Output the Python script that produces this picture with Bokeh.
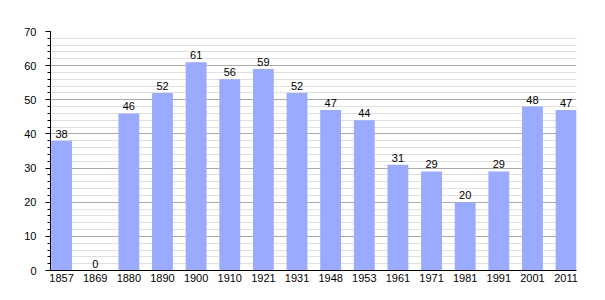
from bokeh.plotting import figure
from bokeh.models import ColumnDataSource, FixedTicker, Range1d
from bokeh.embed import file_html
from bokeh.resources import INLINE
from bokeh.core.properties import value

years = ["1857", "1869", "1880", "1890", "1900", "1910", "1921", "1931",
         "1948", "1953", "1961", "1971", "1981", "1991", "2001", "2011"]
population = [38, 0, 46, 52, 61, 56, 59, 52, 47, 44, 31, 29, 20, 29, 48, 47]
y_ticks = [0, 10, 20, 30, 40, 50, 60, 70]

xs = list(range(len(years)))
src = ColumnDataSource(dict(x=xs, top=population, lab=[str(v) for v in population]))

p = figure(width=605, height=300, output_backend="svg", toolbar_location=None,
           x_range=Range1d(-0.33, len(years) - 1 + 0.31), y_range=Range1d(0, 70),
           min_border_left=50, min_border_right=29, min_border_top=31, min_border_bottom=30)
p.outline_line_color = None
p.background_fill_color = "white"

p.vbar(x="x", top="top", bottom=0, width=0.62, source=src,
       fill_color="#99aaff", line_color=None)
p.text(x="x", y="top", text="lab", source=src, text_align="center",
       text_baseline="bottom", y_offset=-3, text_font_size="11px",
       text_font=value("Liberation Sans"), text_color="#000000")

# grids
p.xgrid.grid_line_color = None
p.ygrid.grid_line_color = "#aaaaaa"
p.ygrid.grid_line_width = 1
p.ygrid.minor_grid_line_color = "#e0e0e0"
p.ygrid.minor_grid_line_width = 1

# y axis
p.yaxis.ticker = FixedTicker(ticks=y_ticks, minor_ticks=list(range(0, 71, 2)))
p.yaxis.axis_line_color = "black"
p.yaxis.major_tick_line_color = "black"
p.yaxis.minor_tick_line_color = "black"
p.yaxis.major_tick_out = 5
p.yaxis.major_tick_in = 0
p.yaxis.minor_tick_out = 3
p.yaxis.minor_tick_in = 0
p.yaxis.major_label_standoff = 9
p.yaxis.major_label_text_font = "Liberation Sans"
p.yaxis.major_label_text_font_size = "11px"
p.yaxis.major_label_text_color = "black"

# x axis
p.xaxis.ticker = FixedTicker(ticks=xs)
p.xaxis.major_label_overrides = {i: y for i, y in zip(xs, years)}
p.xaxis.axis_line_color = "black"
p.xaxis.major_tick_line_color = None
p.xaxis.minor_tick_line_color = None
p.xaxis.major_tick_out = 0
p.xaxis.major_tick_in = 0
p.xaxis.major_label_standoff = 3
p.xaxis.major_label_text_font = "Liberation Sans"
p.xaxis.major_label_text_font_size = "11px"
p.xaxis.major_label_text_color = "black"

open("out.html", "w").write(file_html(p, INLINE))
